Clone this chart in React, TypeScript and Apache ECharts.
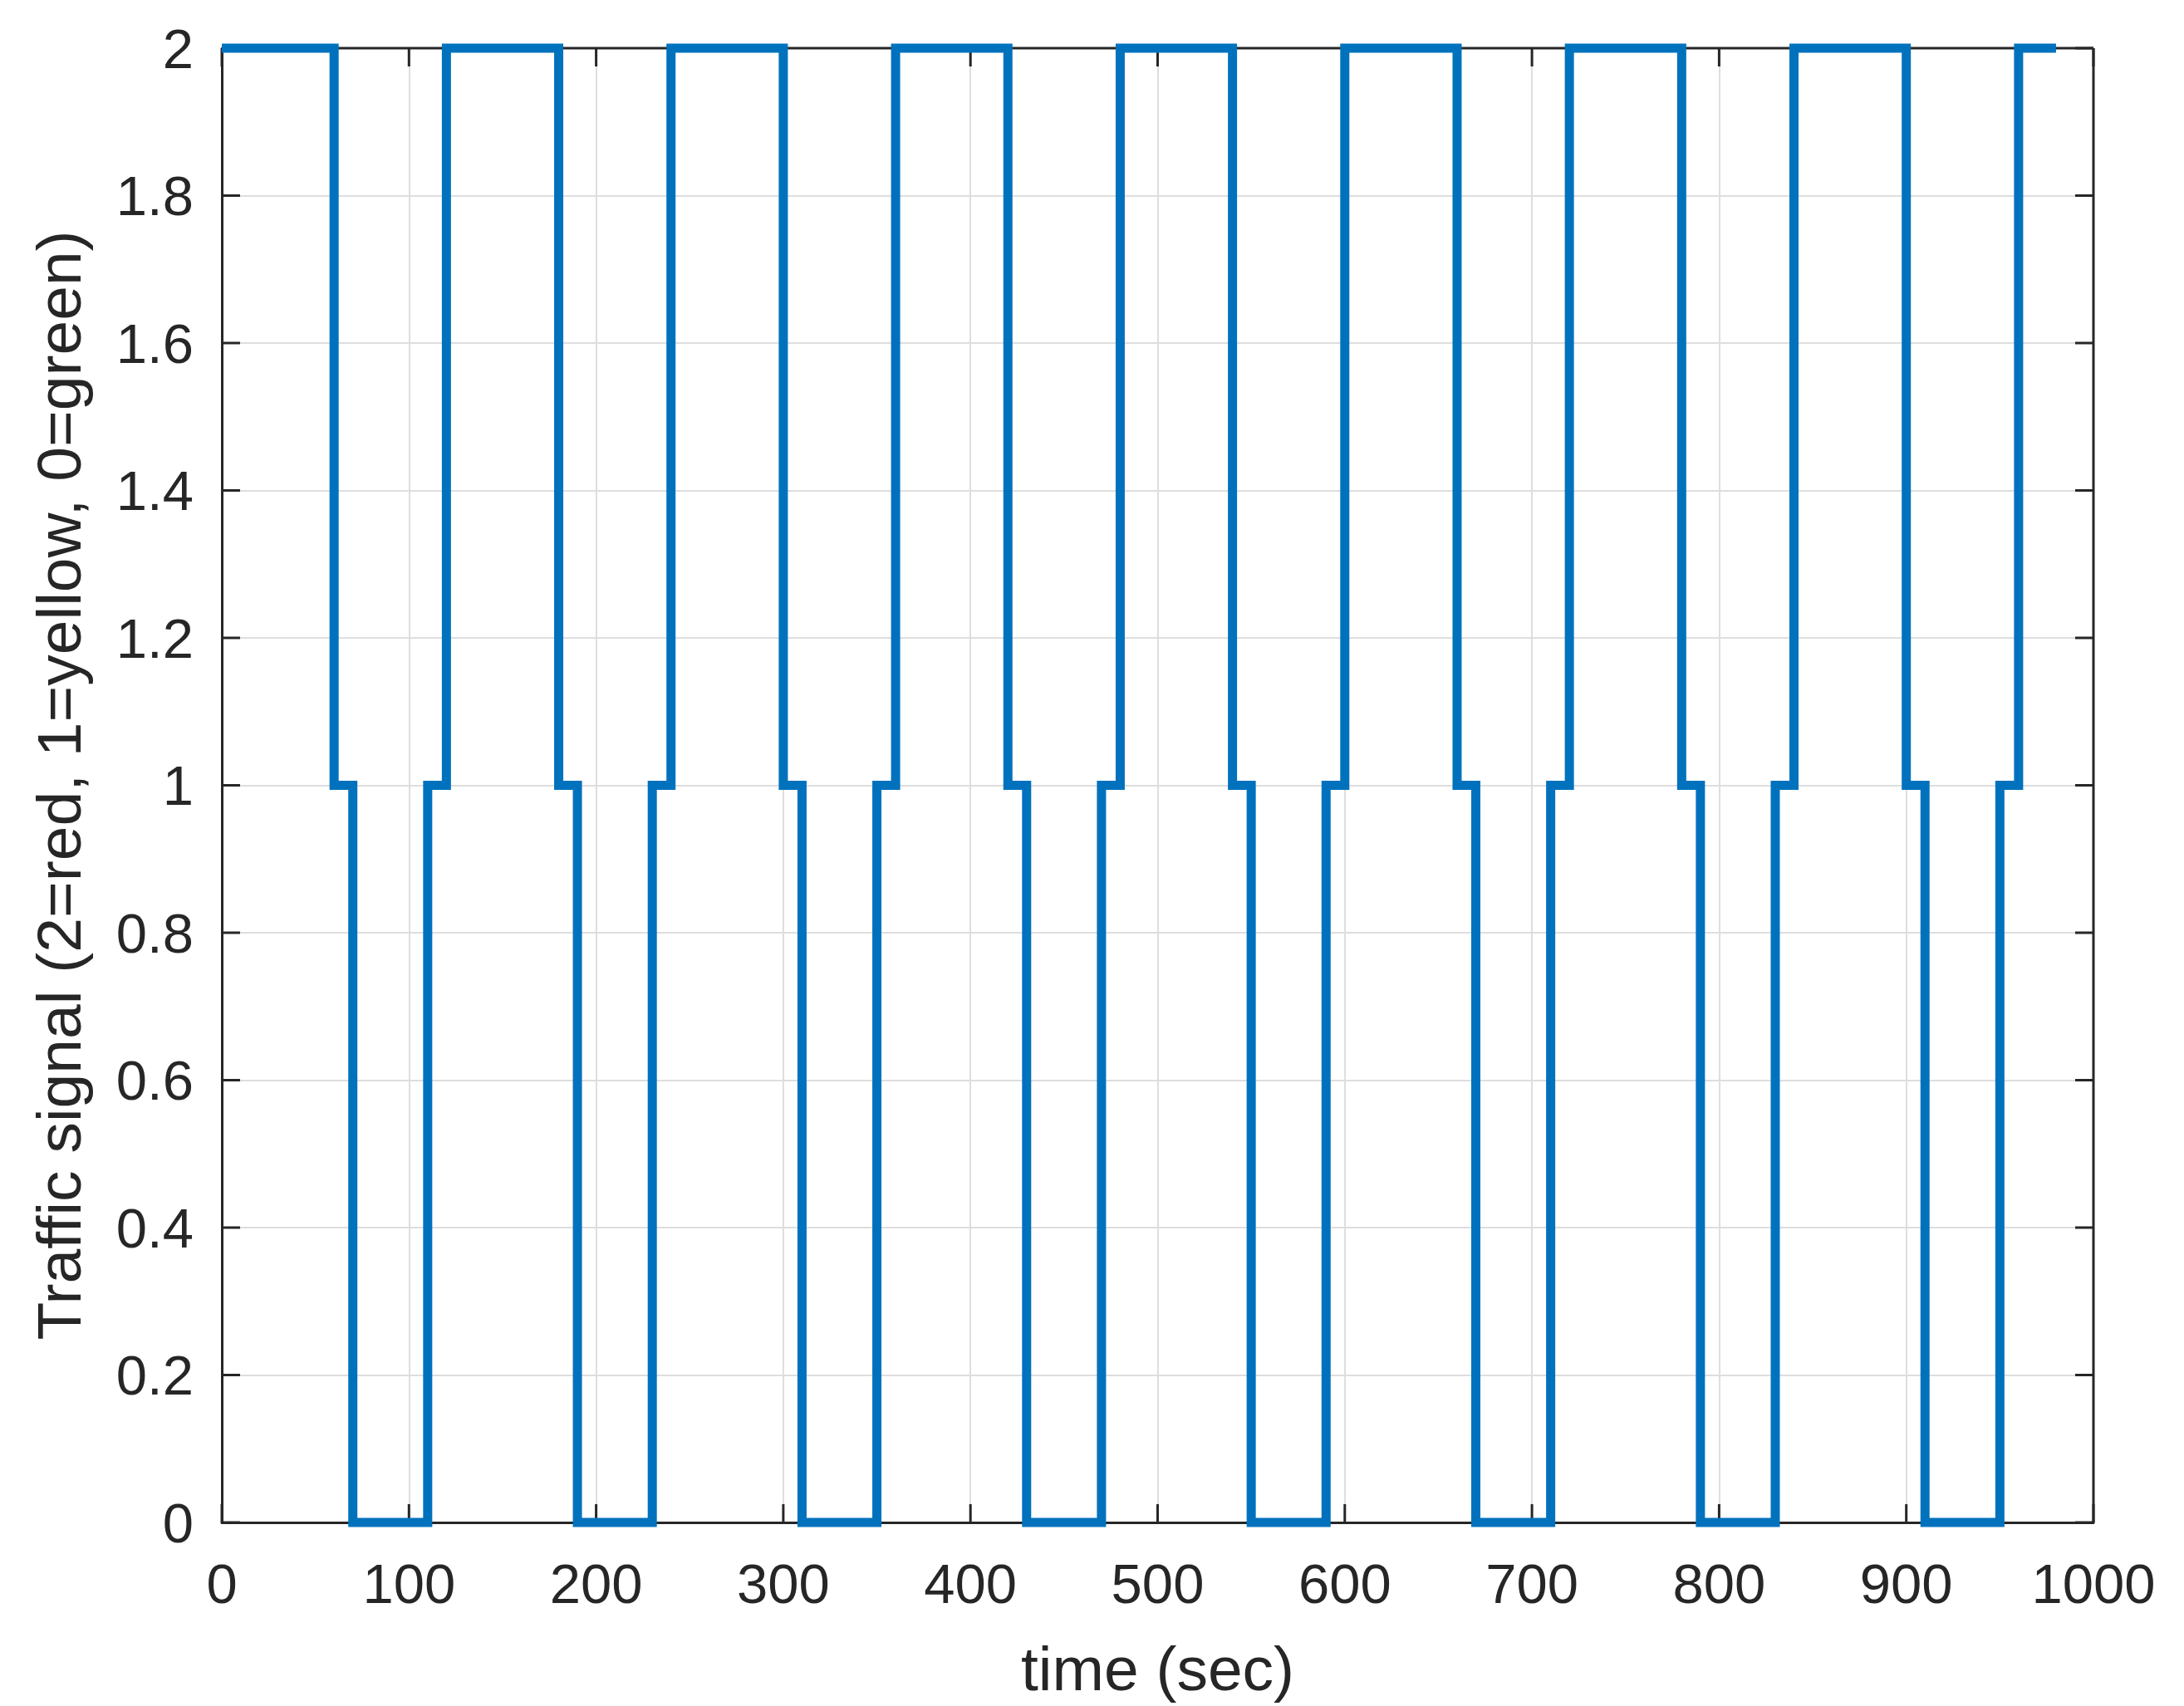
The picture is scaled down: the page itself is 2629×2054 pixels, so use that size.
import React, { useEffect, useRef } from "react";
import * as echarts from "echarts";

// Switching instants (sec) and the signal level that starts at each instant
const switchTimes = [
  0, 60, 70, 110, 120, 180, 190, 230, 240, 300, 310, 350, 360, 420, 430, 470,
  480, 540, 550, 590, 600, 660, 670, 710, 720, 780, 790, 830, 840, 900, 910,
  950, 960, 980,
];
const signalLevels = [
  2, 1, 0, 1, 2, 1, 0, 1, 2, 1, 0, 1, 2, 1, 0, 1,
  2, 1, 0, 1, 2, 1, 0, 1, 2, 1, 0, 1, 2, 1, 0,
  1, 2, 2,
];

const xTicks = [0, 100, 200, 300, 400, 500, 600, 700, 800, 900, 1000];
const yTicks = [0, 0.2, 0.4, 0.6, 0.8, 1, 1.2, 1.4, 1.6, 1.8, 2];

const xTitle = "time (sec)";
const yTitle = "Traffic signal (2=red, 1=yellow, 0=green)";

export default function App() {
  const ref = useRef<HTMLDivElement>(null);

  useEffect(() => {
    document.body.style.margin = "0";
    document.body.style.overflow = "hidden";
    if (!ref.current) return;
    const chart = echarts.init(ref.current, null, { renderer: "svg" });

    const data = switchTimes.map((t, i) => [t, signalLevels[i]]);
    const font = "'Liberation Sans', Arial, Helvetica, sans-serif";
    const axisColor = "#262626";
    const gridColor = "#dedede";
    const tickLen = 22;

    chart.setOption({
      animation: false,
      backgroundColor: "#ffffff",
      grid: {
        left: 267,
        top: 58,
        right: 109,
        bottom: 221,
        containLabel: false,
        outerBoundsMode: "none",
        show: false,
      },
      xAxis: {
        type: "value",
        min: xTicks[0],
        max: xTicks[xTicks.length - 1],
        interval: xTicks[1] - xTicks[0],
        name: xTitle,
        nameLocation: "middle",
        nameGap: 138,
        nameTextStyle: { fontFamily: font, fontSize: 75, color: axisColor },
        axisLine: { show: true, lineStyle: { color: axisColor, width: 3 } },
        axisTick: { show: false },
        axisLabel: {
          fontFamily: font,
          fontSize: 67,
          color: axisColor,
          margin: 40,
          formatter: (v: number) => String(v),
        },
        splitLine: { show: true, lineStyle: { color: gridColor, width: 2 } },
      },
      yAxis: {
        type: "value",
        min: yTicks[0],
        max: yTicks[yTicks.length - 1],
        interval: 0.2,
        name: yTitle,
        nameLocation: "middle",
        nameRotate: 90,
        nameGap: 159,
        nameTextStyle: { fontFamily: font, fontSize: 75, color: axisColor },
        axisLine: { show: true, lineStyle: { color: axisColor, width: 3 } },
        axisTick: { show: false },
        axisLabel: {
          fontFamily: font,
          fontSize: 67,
          color: axisColor,
          margin: 34,
          formatter: (v: number) => String(Math.round(v * 10) / 10),
        },
        splitLine: { show: true, lineStyle: { color: gridColor, width: 2 } },
      },
      series: [
        {
          type: "line",
          data,
          step: "end",
          showSymbol: false,
          symbol: "none",
          clip: false,
          z: 5,
          lineStyle: { color: "#0072BD", width: 11, cap: "butt", join: "miter" },
        },
      ],
    });

    // Box edges and inward tick marks on all four sides, positioned through the axes' scales
    const px = (x: number, y: number) =>
      chart.convertToPixel({ gridIndex: 0 }, [x, y]) as number[];
    const xMin = xTicks[0];
    const xMax = xTicks[xTicks.length - 1];
    const yMin = yTicks[0];
    const yMax = yTicks[yTicks.length - 1];
    const lineStyle = { stroke: axisColor, lineWidth: 3 };
    const [x0, y0] = px(xMin, yMin);
    const [x1, y1] = px(xMax, yMax);
    const marks: any[] = [
      { type: "line", z: 3, shape: { x1: x0, y1: y1, x2: x1, y2: y1 }, style: lineStyle },
      { type: "line", z: 3, shape: { x1: x1, y1: y0, x2: x1, y2: y1 }, style: lineStyle },
    ];
    xTicks.forEach((t) => {
      const [xb] = px(t, yMin);
      marks.push({ type: "line", z: 3, shape: { x1: xb, y1: y0, x2: xb, y2: y0 - tickLen }, style: lineStyle });
      marks.push({ type: "line", z: 3, shape: { x1: xb, y1: y1, x2: xb, y2: y1 + tickLen }, style: lineStyle });
    });
    yTicks.forEach((v) => {
      const [, yv] = px(xMin, v);
      marks.push({ type: "line", z: 3, shape: { x1: x0, y1: yv, x2: x0 + tickLen, y2: yv }, style: lineStyle });
      marks.push({ type: "line", z: 3, shape: { x1: x1, y1: yv, x2: x1 - tickLen, y2: yv }, style: lineStyle });
    });
    chart.setOption({ graphic: marks });

    return () => chart.dispose();
  }, []);

  return <div ref={ref} style={{ width: "2629px", height: "2054px" }} />;
}
